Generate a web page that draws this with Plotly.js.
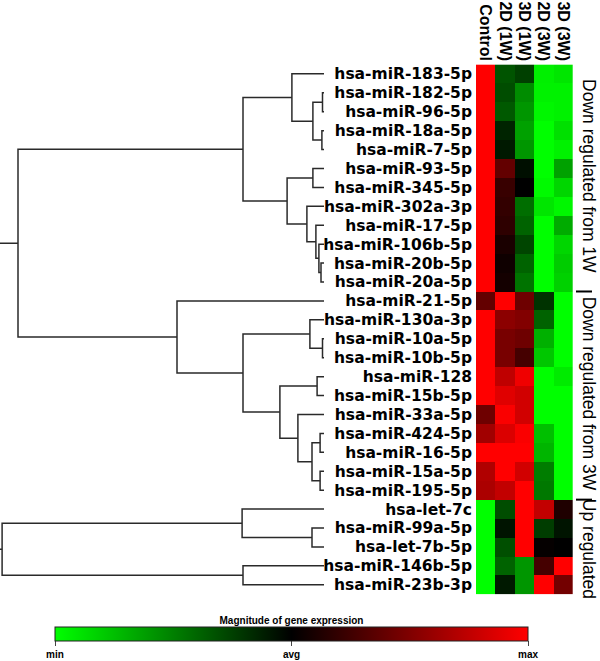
<!DOCTYPE html>
<html>
<head>
<meta charset="utf-8">
<script src="https://cdn.plot.ly/plotly-3.0.1.min.js"></script>
<style>html,body{margin:0;padding:0;background:#fff;}#chart{width:600px;height:661px;}</style>
</head>
<body>
<div id="chart"></div>
<script>
// ---- data ----
const mirnas = ["hsa-miR-183-5p","hsa-miR-182-5p","hsa-miR-96-5p","hsa-miR-18a-5p","hsa-miR-7-5p",
  "hsa-miR-93-5p","hsa-miR-345-5p","hsa-miR-302a-3p","hsa-miR-17-5p","hsa-miR-106b-5p",
  "hsa-miR-20b-5p","hsa-miR-20a-5p","hsa-miR-21-5p","hsa-miR-130a-3p","hsa-miR-10a-5p",
  "hsa-miR-10b-5p","hsa-miR-128","hsa-miR-15b-5p","hsa-miR-33a-5p","hsa-miR-424-5p",
  "hsa-miR-16-5p","hsa-miR-15a-5p","hsa-miR-195-5p","hsa-let-7c","hsa-miR-99a-5p",
  "hsa-let-7b-5p","hsa-miR-146b-5p","hsa-miR-23b-3p"];
const conditions = ["Control","2D (1W)","3D (1W)","2D (3W)","3D (3W)"];
// relative expression: -1 = min (green), 0 = avg (black), 1 = max (red)
const expression = [
  [1, -0.33, -0.25, -0.94, -0.90],
  [1, -0.30, -0.55, -0.95, -0.95],
  [1, -0.35, -0.59, -0.97, -0.95],
  [1, -0.14, -0.63, -1.00, -0.88],
  [1, -0.10, -0.59, -1.00, -0.95],
  [1,  0.39, -0.06, -1.00, -0.63],
  [1,  0.22,  0.00, -0.98, -0.84],
  [1,  0.20, -0.43, -0.90, -0.97],
  [1,  0.18, -0.39, -1.00, -0.67],
  [1,  0.10, -0.27, -1.00, -0.84],
  [1,  0.06, -0.39, -1.00, -0.80],
  [1,  0.08, -0.45, -1.00, -0.82],
  [0.39, 1,  0.43, -0.20, -1.00],
  [1,  0.55,  0.51, -0.39, -1.00],
  [1,  0.47,  0.43, -0.69, -1.00],
  [1,  0.47,  0.27, -0.78, -1.00],
  [1,  0.75,  0.94, -1.00, -0.92],
  [1,  0.88,  0.82, -1.00, -1.00],
  [0.43, 0.98, 0.82, -1.00, -1.00],
  [0.63, 0.86, 0.98, -0.75, -1.00],
  [1,  1.00,  1.00, -0.71, -1.00],
  [0.69, 1.00, 0.82, -0.49, -1.00],
  [0.67, 0.76, 1.00, -0.47, -1.00],
  [-1, -0.30,  1.00,  0.76,  0.12],
  [-1, -0.08,  1.00, -0.24, -0.08],
  [-1, -0.31,  1.00,  0.02,  0.00],
  [-1, -0.39, -0.59,  0.27,  1.00],
  [-1, -0.10, -0.59,  1.00,  0.45]
];
// hierarchical clustering merges: [childA, childB, height]; ids >= 28 refer to earlier merges
const merges = [
  [1, 2, 0.005], [3, 4, 0.007], [28, 29, 0.037], [0, 30, 0.107],
  [5, 6, 0.037], [10, 11, 0.010], [9, 33, 0.017], [8, 34, 0.027],
  [7, 35, 0.057], [32, 36, 0.123], [31, 37, 0.270],
  [14, 15, 0.005], [13, 39, 0.047], [16, 17, 0.023], [19, 20, 0.013],
  [21, 22, 0.013], [42, 43, 0.040], [18, 44, 0.087], [41, 45, 0.147],
  [40, 46, 0.270], [12, 47, 0.490], [38, 48, 1.020],
  [24, 25, 0.040], [23, 50, 0.273], [26, 27, 0.270], [51, 52, 1.073],
  [49, 53, 1.300]
];
const groups = ["Down regulated from 1W","Down regulated from 3W","Up regulated"];
const groupCenters = [5.4, 16.9, 25.1];
const groupBreaks = [11.5, 22.5];
const scaleTicks = ["min","avg","max"];

// ---- build dendrogram path ----
const n = mirnas.length;
const nodeH = [], nodeY = [];
for (let i = 0; i < n; i++) { nodeH.push(0); nodeY.push(i); }
const dx = [], dy = [];
merges.forEach(m => {
  const [a, b, h] = m;
  dx.push(nodeH[a], h, h, nodeH[b], null);
  dy.push(nodeY[a], nodeY[a], nodeY[b], nodeY[b], null);
  nodeH.push(h); nodeY.push((nodeY[a] + nodeY[b]) / 2);
});

const W = 600, H = 661;
const heat = {
  type: 'heatmap', x: conditions, y: mirnas.map((_, i) => i), z: expression,
  xaxis: 'x', yaxis: 'y', zmin: -1, zmax: 1,
  colorscale: [[0, 'rgb(0,255,0)'], [0.5, 'rgb(0,0,0)'], [1, 'rgb(255,0,0)']],
  hoverinfo: 'skip',
  colorbar: {
    orientation: 'h', x: 291.5 / W, xanchor: 'center', y: (H - 631) / H, yanchor: 'top',
    lenmode: 'pixels', len: 473, thickness: 14, thicknessmode: 'pixels',
    xpad: 0, ypad: 0, outlinewidth: 1, outlinecolor: '#222',
    tickvals: [-1, 0, 1], ticktext: scaleTicks, ticks: 'outside', ticklen: 5, tickcolor: '#444',
    tickfont: {family: 'Liberation Sans, Arial', size: 10, color: '#000', weight: 'bold'},
    title: {text: 'Magnitude of gene expression', side: 'top',
            font: {family: 'Liberation Sans, Arial', size: 10, color: '#000', weight: 'bold'}}
  }
};
const dendro = {
  type: 'scatter', mode: 'lines', x: dx, y: dy, xaxis: 'x2', yaxis: 'y',
  line: {color: '#2a2a2a', width: 1.5}, hoverinfo: 'skip', showlegend: false, connectgaps: false
};

const annotations = groups.map((g, i) => ({
  text: g, xref: 'paper', yref: 'y', x: 589 / W, y: groupCenters[i], textangle: 90,
  showarrow: false, xanchor: 'center', yanchor: 'middle',
  font: {family: 'Liberation Sans, Arial', size: 17.5, color: '#000'}
}));
const shapes = groupBreaks.map(b => ({
  type: 'line', xref: 'paper', yref: 'y', x0: 576 / W, x1: 592 / W, y0: b, y1: b,
  line: {color: '#000', width: 2}
}));

const layout = {
  width: W, height: H, margin: {l: 0, r: 0, t: 0, b: 0}, showlegend: false,
  paper_bgcolor: '#fff', plot_bgcolor: 'rgba(0,0,0,0)',
  xaxis: {domain: [476 / W, 572.7 / W], side: 'top', tickangle: 90, anchor: 'y',
          ticks: '', showline: false, showgrid: false, zeroline: false, automargin: false,
          tickfont: {family: 'Liberation Sans, Arial', size: 16, color: '#000', weight: 'bold'}},
  yaxis: {domain: [(H - 609) / H, (H - 66) / H], range: [27.5, -0.5], anchor: 'x',
          tickvals: mirnas.map((_, i) => i), ticktext: mirnas, ticks: '', ticklabelstandoff: 3,
          showline: false, showgrid: false, zeroline: false, automargin: false,
          tickfont: {family: 'DejaVu Sans', size: 15.5, color: '#000', weight: 'bold'}},
  xaxis2: {domain: [0, 324 / W], range: [1.08, 0], anchor: 'y', visible: false,
           showgrid: false, zeroline: false},
  annotations: annotations, shapes: shapes
};
Plotly.newPlot('chart', [dendro, heat], layout, {displayModeBar: false, staticPlot: true});
</script>
</body>
</html>
